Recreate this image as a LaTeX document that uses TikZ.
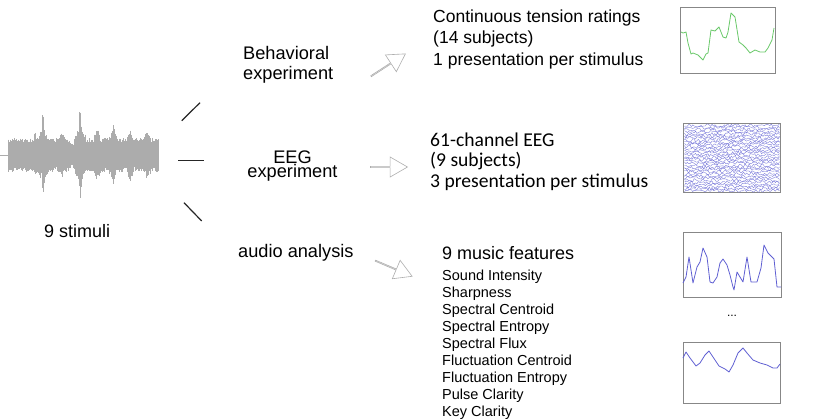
\documentclass[tikz,border=0pt]{standalone}
\usepackage{fontspec}
\setmainfont{Liberation Sans}
\newfontfamily\calib{Carlito}
\usetikzlibrary{shapes.arrows}
\definecolor{wavegray}{RGB}{172,172,172}
\definecolor{plotblue}{RGB}{95,95,210}
\definecolor{plotgreen}{RGB}{105,200,105}
\definecolor{framegray}{RGB}{135,135,135}
\tikzset{lbl/.style={inner sep=0pt,font=\fontsize{18.2}{20}\selectfont},
 res/.style={inner sep=0pt,align=left,font=\fontsize{17.5}{21.5}\selectfont},
 feat/.style={inner sep=0pt,align=left,font=\fontsize{14.5}{17}\selectfont},
 frame/.style={draw=framegray,line width=1pt,inner sep=0pt},
 curve/.style={line width=0.8pt,line join=round},
 branch/.style={line width=1.2pt,draw=black!85},
 wave/.style={draw=wavegray,line width=0.6pt},
 hollow/.style={single arrow,draw=black!32,line width=0.6pt,inner sep=0pt,
  minimum height=#1,minimum width=20pt,single arrow head extend=5pt,
  single arrow head indent=0pt,single arrow tip angle=60}}

\begin{document}
\begin{tikzpicture}[x=1pt,y=-1pt,declare function={tri(\t,\c,\w)=max(0,1-abs(\t-\c)/\w);}]
\useasboundingbox (0,0) rectangle (814,418);
% stimulus waveform
\pgfmathsetseed{11}
\draw[wave] (0,155) -- (8,155);
\foreach \x in {8,8.5,...,158}{
 \pgfmathsetmacro\env{17+22*tri(\x,43,1.5)+10*tri(\x,43,6)+24*tri(\x,80,1.5)+12*tri(\x,80,7)
  +6*tri(\x,62,4)+10*tri(\x,97,4)+14*tri(\x,113,4)+10*tri(\x,130,4)+7*tri(\x,147,4)
  +6*tri(\x,35,2)-7*tri(\x,72,3)}
 \pgfmathsetmacro\up{\env*(0.7+0.3*rnd)}
 \pgfmathsetmacro\dn{\env*(0.7+0.3*rnd)}
 \draw[wave] (\x,{155-\up}) -- (\x,{155+\dn});
}
\node[lbl,anchor=base west,font=\fontsize{18}{20}\selectfont] (stim) at (44,237) {9 stimuli};
% branches
\coordinate (b1s) at (181.7,120.7); \coordinate (b1e) at (200,102.7);
\coordinate (b2s) at (178.3,160.7); \coordinate (b2e) at (204,160.7);
\coordinate (b3s) at (184,202.7);   \coordinate (b3e) at (201.7,221);
\draw[branch] (b1s) -- (b1e);
\draw[branch] (b2s) -- (b2e);
\draw[branch] (b3s) -- (b3e);
% methods (base = last line)
\node[lbl,align=left,anchor=base west] (beh) at (243,79) {Behavioral\\experiment};
\node[lbl,align=center,anchor=base,font=\fontsize{18.2}{14}\selectfont] (eeg) at (292.5,177) {EEG\\experiment};
\node[lbl,anchor=base west] (aud) at (238,257) {audio analysis};
\node[hollow=41pt,rotate=33] (a1) at (387.8,65.3) {};
\node[hollow=37pt] (a2) at (388.5,167) {};
\node[hollow=40pt,rotate=-23] (a3) at (393.3,268.3) {};
% results
\node[res,anchor=base west] (r1) at (433,65) {Continuous tension ratings\\(14 subjects)\\1 presentation per stimulus};
\node[res,anchor=base west,font=\calib\fontsize{19.6}{20.5}\selectfont] (r2) at (430,187) {61-channel EEG\\(9 subjects)\\3 presentation per stimulus};
\node[lbl,anchor=base west,font=\fontsize{18}{20}\selectfont] (r3) at (442,259) {9 music features};
\node[feat,anchor=base west] (fl) at (442,416) {Sound Intensity\\Sharpness\\Spectral Centroid\\Spectral Entropy\\Spectral Flux\\Fluctuation Centroid\\Fluctuation Entropy\\Pulse Clarity\\Key Clarity};
% plots
\node[frame,minimum width=95pt,minimum height=66pt] (p1) at (727.5,40) {};
\node[frame,minimum width=97pt,minimum height=69pt] (p2) at (731.5,157.5) {};
\node[frame,minimum width=98pt,minimum height=65pt] (p3) at (732,264.5) {};
\node[frame,minimum width=97pt,minimum height=61pt] (p4) at (731.5,372.5) {};
\node[font=\fontsize{12}{12}\selectfont] (dots) at (732,316) {...};
\draw[curve,plotgreen] plot coordinates {(681,32) (683,33) (686,32) (688,43) (691,54) (693,53)
 (698,55) (703,60) (706,54) (708,53) (711,30) (715,31) (719,27) (723,37) (726,38) (728,32)
 (731,13) (735,17) (739,42) (743,45) (746,48) (750,53) (755,50) (760,52) (765,52) (768,48)
 (772,40) (774,28)};
\foreach \r in {0,...,31}
 \draw[plotblue!85,line width=0.35pt] plot[domain=684.5:779.5,samples=70] (\x,{125.5+2.1*\r+1.6*rand});
\draw[curve,plotblue] plot coordinates {(683,283) (686,277) (689,257) (693,283) (697,267)
 (700,262) (703,248) (707,257) (710,282) (713,283) (717,277) (720,263) (723,259) (727,265)
 (730,275) (733,287) (734,290) (737,272) (740,277) (743,282) (747,257) (751,282) (757,282)
 (761,268) (764,245) (768,253) (772,257) (774,259) (777,287) (781,287)};
\draw[curve,plotblue] plot coordinates {(683,358) (686,352) (690,358) (696,366) (700,363)
 (705,355) (709,351) (713,357) (719,366) (725,369) (729,372) (733,365) (738,353) (743,348)
 (747,353) (753,360) (760,363) (767,365) (773,368) (777,368) (780,364)};
\end{tikzpicture}
\end{document}
